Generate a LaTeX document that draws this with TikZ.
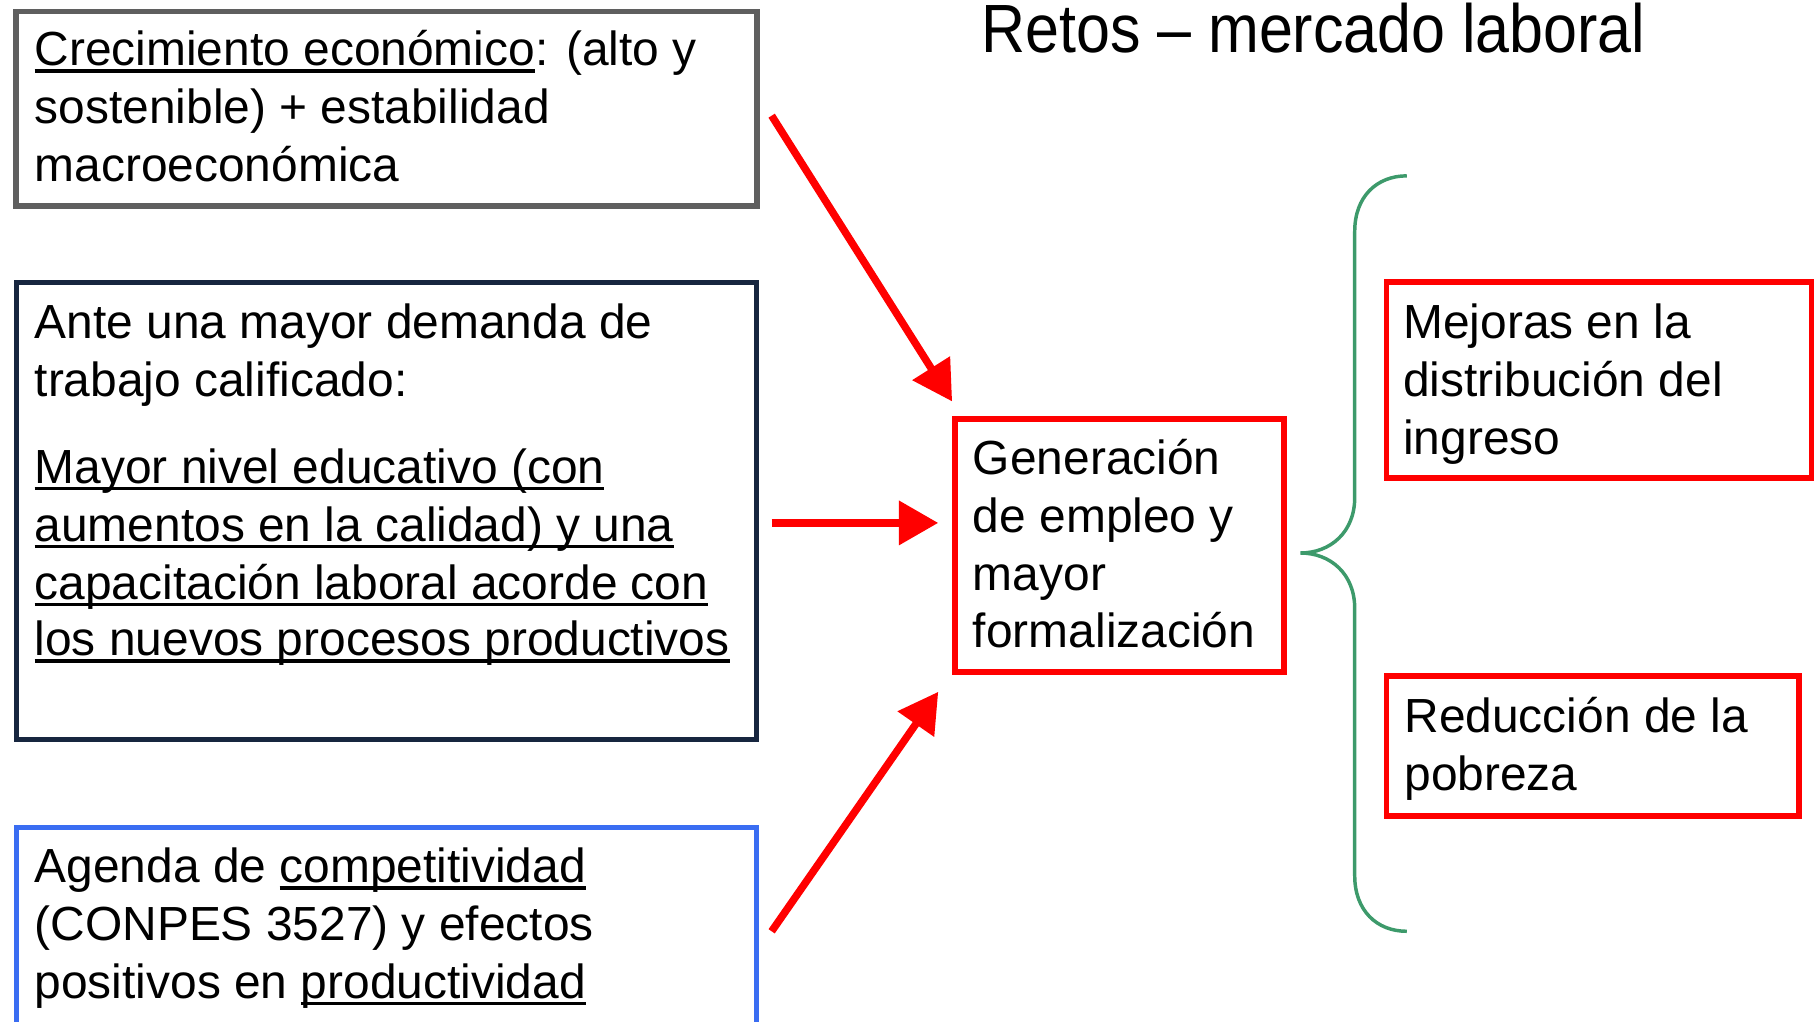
\documentclass[tikz,border=0pt]{standalone}
\usepackage{fontspec}
\setmainfont{Liberation Sans}
\usetikzlibrary{arrows.meta}
\definecolor{boxgray}{HTML}{5F5F5F}
\definecolor{navy}{HTML}{17263F}
\definecolor{bblue}{HTML}{3A6DF2}
\definecolor{bred}{HTML}{FF0000}
\definecolor{bgreen}{HTML}{3D9A6B}
\newsavebox\ulbox
\newcommand\ulx[1]{\sbox\ulbox{#1}\rlap{\rule[-5.9pt]{\wd\ulbox}{3pt}}\usebox\ulbox}
\begin{document}
\begin{tikzpicture}[x=1pt,y=-1pt,
  frame/.style={draw, inner sep=0pt, outer sep=0pt, anchor=north west},
  txt/.style={anchor=base west, inner sep=0pt, outer sep=0pt, font=\fontsize{41.4}{50}\selectfont},
  arr/.style={draw=bred, line width=6.5pt, -{Triangle[length=34pt,width=37pt]}},
]
\useasboundingbox (0,0) rectangle (1568,883);
\clip (0,0) rectangle (1568,883);

% title
\node[anchor=base west, inner sep=0pt] (title) at (848,45)
  {\scalebox{1}[1.12]{\fontsize{52.7}{60}\selectfont Retos – mercado laboral}};

% frames
\node[frame, draw=boxgray, line width=5pt, minimum width=640pt, minimum height=168pt] (b1) at (14,10) {};
\node[frame, draw=navy, line width=4.5pt, minimum width=640pt, minimum height=395pt] (b2) at (14,244) {};
\node[frame, draw=bblue, line width=4.5pt, minimum width=640pt, minimum height=200pt] (b3) at (14,715) {};
\node[frame, draw=bred, line width=5pt, minimum width=284.5pt, minimum height=219pt] (gen) at (825.5,362) {};
\node[frame, draw=bred, line width=5pt, minimum width=367.5pt, minimum height=169pt] (r1) at (1198.5,244) {};
\node[frame, draw=bred, line width=5pt, minimum width=356.5pt, minimum height=121pt] (r2) at (1198.5,584) {};

% box 1 text
\node[txt] (t11) at (30,57) {\ulx{Crecimiento económico}: (alto y};
\node[txt] (t12) at (30,107) {sostenible) + estabilidad};
\node[txt] (t13) at (30,157) {macroeconómica};

% box 2 text
\node[txt] (t21) at (30,293) {Ante una mayor demanda de};
\node[txt] (t22) at (30,343) {trabajo calificado:};
\node[txt] (t23) at (30,418) {\ulx{Mayor nivel educativo (con}};
\node[txt] (t24) at (30,468) {\ulx{aumentos en la calidad) y una}};
\node[txt] (t25) at (30,518) {\ulx{capacitación laboral acorde con}};
\node[txt] (t26) at (30,567) {\ulx{los nuevos procesos productivos}};

% box 3 text
\node[txt] (t31) at (30,763) {Agenda de \ulx{competitividad}};
\node[txt] (t32) at (30,813) {(CONPES 3527) y efectos};
\node[txt] (t33) at (30,863) {positivos en \ulx{productividad}};

% centre text
\node[txt] (g1) at (841,410) {Generación};
\node[txt] (g2) at (841,460) {de empleo y};
\node[txt] (g3) at (841,510) {mayor};
\node[txt] (g4) at (841,560) {formalización};

% right texts
\node[txt] (m1) at (1213,293) {Mejoras en la};
\node[txt] (m2) at (1213,343) {distribución del};
\node[txt] (m3) at (1213,393) {ingreso};
\node[txt] (p1) at (1214,633) {Reducción de la};
\node[txt] (p2) at (1214,683) {pobreza};

% arrows
\coordinate (a1s) at (667,100);
\coordinate (a1e) at (823,347);
\coordinate (a2s) at (667,452);
\coordinate (a2e) at (811,452);
\coordinate (a3s) at (667,805);
\coordinate (a3e) at (811,598);
\draw[arr] (a1s) -- (a1e);
\draw[arr] (a2s) -- (a2e);
\draw[arr] (a3s) -- (a3e);

% brace
\draw[bgreen, line width=3pt]
  (1216,152) .. controls (1190,152) and (1171,170) .. (1171,200)
  -- (1171,430) .. controls (1171,460) and (1150,478) .. (1124,478)
  .. controls (1150,478) and (1171,496) .. (1171,526)
  -- (1171,757) .. controls (1171,787) and (1190,805) .. (1216,805);
\end{tikzpicture}
\end{document}
